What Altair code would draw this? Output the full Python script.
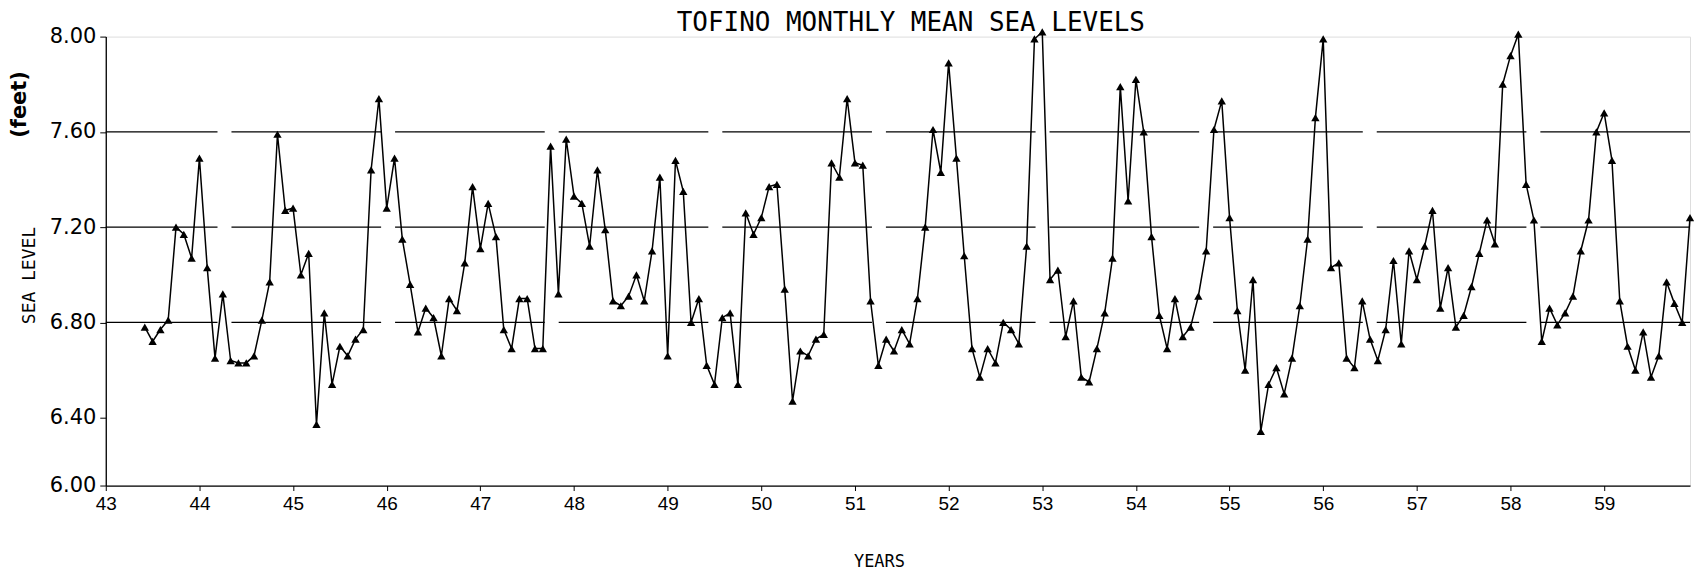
import altair as alt
import pandas as pd

# ---- data (Tofino monthly mean sea level, feet) ----
years = list(range(1943, 1960))
first_month_1943 = 6  # series starts June 1943

y1943 = [6.78, 6.72, 6.77, 6.81, 7.20, 7.17, 7.07]
y1944 = [7.49, 7.03, 6.65, 6.92, 6.64, 6.63, 6.63, 6.66, 6.81, 6.97, 7.59, 7.27]
y1945 = [7.28, 7.00, 7.09, 6.36, 6.84, 6.54, 6.70, 6.66, 6.73, 6.77, 7.44, 7.74]
y1946 = [7.28, 7.49, 7.15, 6.96, 6.76, 6.86, 6.82, 6.66, 6.90, 6.85, 7.05, 7.37]
y1947 = [7.11, 7.30, 7.16, 6.77, 6.69, 6.90, 6.90, 6.69, 6.69, 7.54, 6.92, 7.57]
y1948 = [7.33, 7.30, 7.12, 7.44, 7.19, 6.89, 6.87, 6.91, 7.00, 6.89, 7.10, 7.41]
y1949 = [6.66, 7.48, 7.35, 6.80, 6.90, 6.62, 6.54, 6.82, 6.84, 6.54, 7.26, 7.17]
y1950 = [7.24, 7.37, 7.38, 6.94, 6.47, 6.68, 6.66, 6.73, 6.75, 7.47, 7.41, 7.74]
y1951 = [7.47, 7.46, 6.89, 6.62, 6.73, 6.68, 6.77, 6.71, 6.90, 7.20, 7.61, 7.43]
y1952 = [7.89, 7.49, 7.08, 6.69, 6.57, 6.69, 6.63, 6.80, 6.77, 6.71, 7.12, 7.99]
y1953 = [8.02, 6.98, 7.02, 6.74, 6.89, 6.57, 6.55, 6.69, 6.84, 7.07, 7.79, 7.31]
y1954 = [7.82, 7.60, 7.16, 6.83, 6.69, 6.90, 6.74, 6.78, 6.91, 7.10, 7.61, 7.73]
y1955 = [7.24, 6.85, 6.60, 6.98, 6.32, 6.54, 6.61, 6.50, 6.65, 6.87, 7.15, 7.66]
y1956 = [7.99, 7.03, 7.05, 6.65, 6.61, 6.89, 6.73, 6.64, 6.77, 7.06, 6.71, 7.10]
y1957 = [6.98, 7.12, 7.27, 6.86, 7.03, 6.78, 6.83, 6.95, 7.09, 7.23, 7.13, 7.80]
y1958 = [7.92, 8.01, 7.38, 7.23, 6.72, 6.86, 6.79, 6.84, 6.91, 7.10, 7.23, 7.60]
y1959 = [7.68, 7.48, 6.89, 6.70, 6.60, 6.76, 6.57, 6.66, 6.97, 6.88, 6.80, 7.24]

series = [y1943, y1944, y1945, y1946, y1947, y1948, y1949, y1950, y1951,
          y1952, y1953, y1954, y1955, y1956, y1957, y1958, y1959]

x_ticks = list(range(43, 60))
y_ticks = [6.0, 6.4, 6.8, 7.2, 7.6, 8.0]
grid_levels = [6.8, 7.2, 7.6]
title_text = "TOFINO MONTHLY MEAN SEA LEVELS"

rows = []
for yr, vals in zip(years, series):
    first = first_month_1943 if yr == 1943 else 1
    for k, v in enumerate(vals):
        m = first + k
        rows.append({"year": (yr - 1900) + (m - 1) / 12.0, "level": v})
df = pd.DataFrame(rows)
grid_df = pd.DataFrame({"level": grid_levels})
feet_df = pd.DataFrame({"label": ["(feet)"]})
title_df = pd.DataFrame({"label": [title_text]})

W, H = 1588, 450
xscale = alt.Scale(domain=[43, 59.9167], nice=False, zero=False)
# original axis: 6.40-8.00 evenly spaced, bottom segment down to 6.00 compressed
yscale = alt.Scale(domain=[6.0, 6.4, 8.0], range=[H, 382, 0], nice=False, zero=False)

xaxis = alt.Axis(values=x_ticks, format="d", labelFont="Liberation Sans",
                 labelFontSize=19, labelColor="black", labelFlush=False,
                 labelOverlap=False, tickColor="black", domainColor="black",
                 domainWidth=1.3, tickSize=5, labelPadding=4, grid=False,
                 title="YEARS", titleFont="DejaVu Sans Mono", titleFontSize=17,
                 titleFontWeight="normal", titleColor="black", titleX=775,
                 titleY=68, titleBaseline="top", titleAlign="center")
yaxis = alt.Axis(values=y_ticks, format=".2f", labelFont="DejaVu Sans",
                 labelFontSize=21, labelColor="black", labelOverlap=False,
                 labelFlush=False, tickColor="black", domainColor="black",
                 domainWidth=1.3, tickSize=6, labelPadding=4, grid=False,
                 title="SEA LEVEL", titleFont="DejaVu Sans Mono",
                 titleFontSize=18, titleFontWeight="normal",
                 titleColor="black", titleX=-76, titleY=239, titleAngle=270,
                 titleAlign="center", titleBaseline="middle")

base = alt.Chart(df).encode(
    x=alt.X("year:Q", scale=xscale, axis=xaxis),
    y=alt.Y("level:Q", scale=yscale, axis=yaxis),
)
line = base.mark_line(color="black", strokeWidth=1.5)
pts = base.mark_point(shape="triangle-up", filled=True, size=70,
                      color="black", opacity=1)

grid = alt.Chart(grid_df).mark_rule(color="black", strokeWidth=1.4,
                                    strokeDash=[150, 14]).encode(
    y=alt.Y("level:Q", scale=yscale, axis=yaxis)
)

feet = alt.Chart(feet_df).mark_text(angle=270, font="DejaVu Sans",
                                    fontSize=21, fontWeight="bold",
                                    color="black").encode(
    x=alt.value(-86), y=alt.value(68), text="label:N"
)

title = alt.Chart(title_df).mark_text(font="DejaVu Sans Mono", fontSize=26,
                                      align="center", baseline="alphabetic",
                                      color="black").encode(
    x=alt.value(807), y=alt.value(-6), text="label:N"
)

chart = alt.layer(line, pts, grid, feet, title).properties(
    width=W, height=H,
    autosize=alt.AutoSizeParams(type="none"),
    padding={"left": 98, "top": 28, "right": 4, "bottom": 85},
).configure_view(strokeWidth=0, stroke="transparent").configure(background="white")

chart.save("out.html", embed_options={"renderer": "svg", "actions": False})
